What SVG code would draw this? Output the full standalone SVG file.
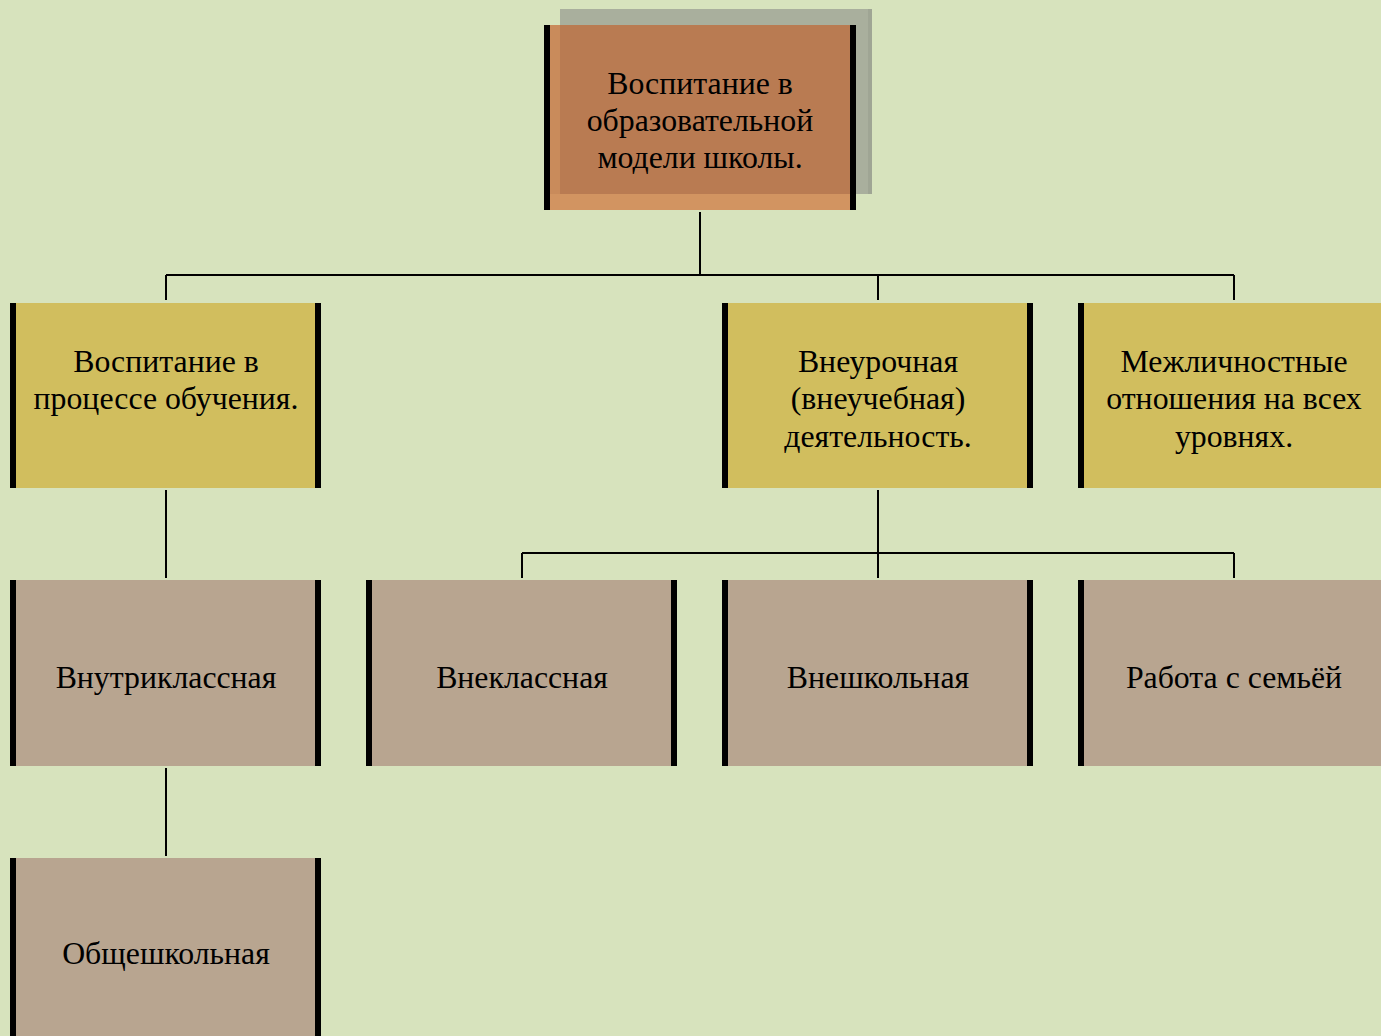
<svg xmlns="http://www.w3.org/2000/svg" width="1381" height="1036" viewBox="0 0 1381 1036">
<style>
.t{font-family:"Liberation Serif","Times New Roman",serif;font-size:31.8px;fill:#000;text-anchor:middle}
.y{fill:#D1BE5E}
.g{fill:#B8A590}
.bar{fill:#000}
.c{stroke:#000;stroke-width:2;fill:none}
</style>
<rect width="1381" height="1036" fill="#D7E3BD"/>
<g id="connectors">
<path class="c" d="M700 212V275M166 275H1234M166 275V300M878 275V300M1234 275V300"/>
<path class="c" d="M166 490V578"/>
<path class="c" d="M878 490V578M522 553H1234M522 553V578M1234 553V578"/>
<path class="c" d="M166 768V856"/>
</g>
<g id="n-root">
<rect x="544" y="25" width="312" height="185" fill="#D29461"/>
<rect x="560" y="9" width="312" height="16" fill="#A9AF9D"/>
<rect x="856" y="25" width="16" height="169" fill="#A9AF9D"/>
<rect x="868" y="9" width="4" height="185" fill="#9FA594"/>
<rect x="550" y="25" width="10" height="169" fill="#C98B5B"/>
<rect x="560" y="25" width="291" height="169" fill="#B97B52"/>
<rect class="bar" x="544" y="25" width="6" height="185"/>
<rect class="bar" x="850" y="25" width="6" height="185"/>
<text class="t" x="700" y="94">Воспитание в</text>
<text class="t" x="700" y="131">образовательной</text>
<text class="t" x="700" y="168">модели школы.</text>
</g>
<g id="n-learning">
<rect class="y" x="10" y="303" width="311" height="185"/>
<rect class="bar" x="10" y="303" width="6" height="185"/>
<rect class="bar" x="315" y="303" width="6" height="185"/>
<text class="t" x="166" y="372">Воспитание в</text>
<text class="t" x="166" y="409">процессе обучения.</text>
</g>
<g id="n-extracurricular">
<rect class="y" x="722" y="303" width="311" height="185"/>
<rect class="bar" x="722" y="303" width="6" height="185"/>
<rect class="bar" x="1027" y="303" width="6" height="185"/>
<text class="t" x="878" y="372">Внеурочная</text>
<text class="t" x="878" y="409">(внеучебная)</text>
<text class="t" x="878" y="447">деятельность.</text>
</g>
<g id="n-interpersonal">
<rect class="y" x="1078" y="303" width="311" height="185"/>
<rect class="bar" x="1078" y="303" width="6" height="185"/>
<text class="t" x="1234" y="372">Межличностные</text>
<text class="t" x="1234" y="409">отношения на всех</text>
<text class="t" x="1234" y="447">уровнях.</text>
</g>
<g id="n-inclass">
<rect class="g" x="10" y="580" width="311" height="186"/>
<rect class="bar" x="10" y="580" width="6" height="186"/>
<rect class="bar" x="315" y="580" width="6" height="186"/>
<text class="t" x="166" y="688">Внутриклассная</text>
</g>
<g id="n-outclass">
<rect class="g" x="366" y="580" width="311" height="186"/>
<rect class="bar" x="366" y="580" width="6" height="186"/>
<rect class="bar" x="671" y="580" width="6" height="186"/>
<text class="t" x="522" y="688">Внеклассная</text>
</g>
<g id="n-outschool">
<rect class="g" x="722" y="580" width="311" height="186"/>
<rect class="bar" x="722" y="580" width="6" height="186"/>
<rect class="bar" x="1027" y="580" width="6" height="186"/>
<text class="t" x="878" y="688">Внешкольная</text>
</g>
<g id="n-family">
<rect class="g" x="1078" y="580" width="311" height="186"/>
<rect class="bar" x="1078" y="580" width="6" height="186"/>
<text class="t" x="1234" y="688">Работа с семьёй</text>
</g>
<g id="n-schoolwide">
<rect class="g" x="10" y="858" width="311" height="190"/>
<rect class="bar" x="10" y="858" width="6" height="190"/>
<rect class="bar" x="315" y="858" width="6" height="190"/>
<text class="t" x="166" y="964">Общешкольная</text>
</g>
</svg>
